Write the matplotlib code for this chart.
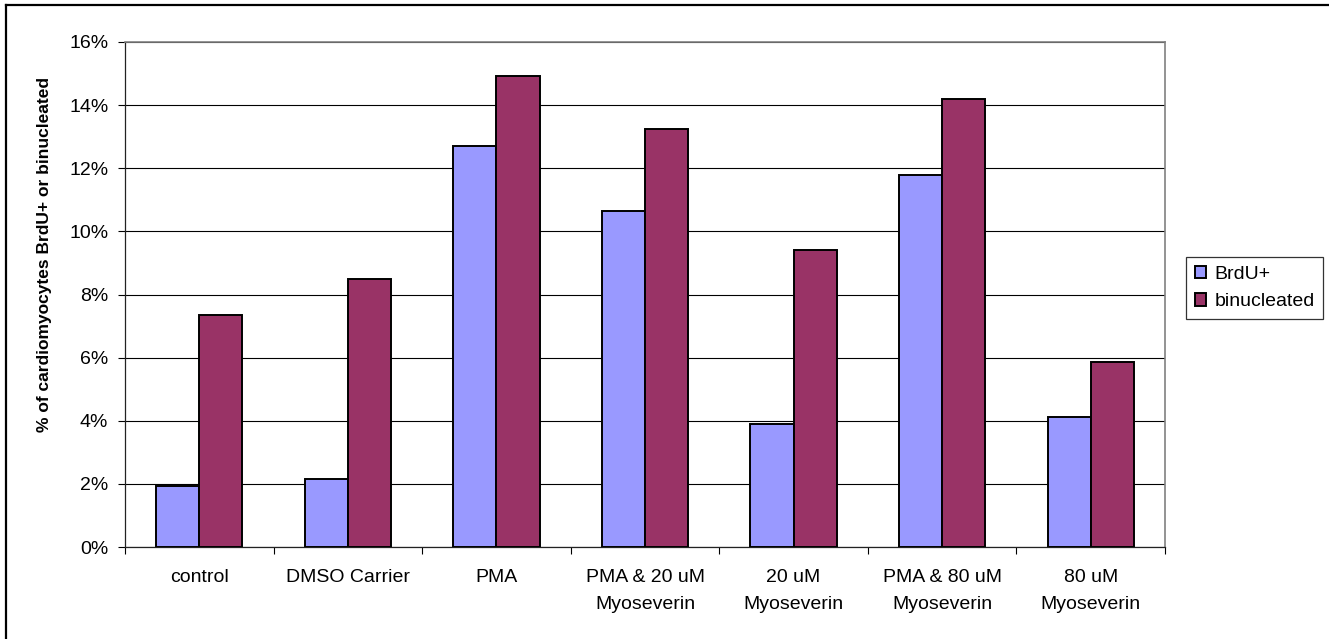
import numpy as np
import matplotlib
matplotlib.use("Agg")
import matplotlib.pyplot as plt
from matplotlib.lines import Line2D
from matplotlib.ticker import FixedLocator, PercentFormatter

# ──────────────────────────────────────────────
# Data
# ──────────────────────────────────────────────
categories = ["control", "DMSO Carrier", "PMA", "PMA & 20 uM\nMyoseverin",
              "20 uM\nMyoseverin", "PMA & 80 uM\nMyoseverin", "80 uM\nMyoseverin"]
brdu = [1.92, 2.15, 12.69, 10.66, 3.89, 11.80, 4.13]          # %
binucleated = [7.36, 8.50, 14.93, 13.24, 9.40, 14.20, 5.86]   # %
series_names = ["BrdU+", "binucleated"]
series_colors = ["#9999FF", "#993366"]

plt.rcParams["font.family"] = ["Liberation Sans", "DejaVu Sans"]

W, H = 1329, 639
fig = plt.figure(figsize=(W / 100, H / 100), dpi=100)
ax = fig.add_axes([125 / W, 1 - 547 / H, (1165 - 125) / W, (547 - 42) / H])

x = np.arange(len(categories))
bw = 0.29
bars1 = ax.bar(x - bw / 2, brdu, bw, color=series_colors[0], edgecolor="black",
               linewidth=1.4, label=series_names[0], zorder=3)
bars2 = ax.bar(x + bw / 2, binucleated, bw, color=series_colors[1], edgecolor="black",
               linewidth=1.4, label=series_names[1], zorder=3)

ax.set_xlim(-0.5, len(categories) - 0.5)
ax.set_ylim(0, 16)
ax.set_yticks(np.arange(0, 17, 2))
ax.yaxis.set_major_formatter(PercentFormatter(decimals=0))
ax.grid(axis="y", color="black", linewidth=0.8, zorder=0)

ax.set_xticks(x)
ax.set_xticklabels(categories, fontsize=14, linespacing=1.75)
ax.xaxis.set_minor_locator(FixedLocator(np.arange(-0.5, len(categories), 1.0)))
ax.tick_params(axis="x", which="major", length=0, pad=16)
ax.tick_params(axis="x", which="minor", length=5, width=0.8, direction="out")
ax.tick_params(axis="y", length=5, width=0.8, direction="out", labelsize=14, pad=7)

for side in ["top", "right"]:
    ax.spines[side].set_color("#808080")
    ax.spines[side].set_linewidth(1.2)
for side in ["left", "bottom"]:
    ax.spines[side].set_color("#222222")
    ax.spines[side].set_linewidth(0.9)

fig.text(45 / W, 1 - 255 / H, "% of cardiomyocytes BrdU+ or binucleated",
         rotation=90, fontsize=12.5, fontweight="bold", ha="center", va="center")

leg = fig.legend(handles=[bars1, bars2], loc="upper left",
                 bbox_to_anchor=(1186 / W, 1 - 257 / H), fontsize=14,
                 frameon=True, fancybox=False, handlelength=0.6, handleheight=0.6,
                 handletextpad=0.4, borderpad=0.45, labelspacing=0.55,
                 borderaxespad=0)
leg.get_frame().set_edgecolor("black")
leg.get_frame().set_linewidth(0.9)

# outer chart border (only top and left edges visible in the crop)
fig.add_artist(Line2D([6 / W, 6 / W], [0, 1 - 5 / H], color="black", linewidth=1.6))
fig.add_artist(Line2D([6 / W, 1], [1 - 5 / H, 1 - 5 / H], color="black", linewidth=1.6))

fig.savefig("out.png", dpi=100)
